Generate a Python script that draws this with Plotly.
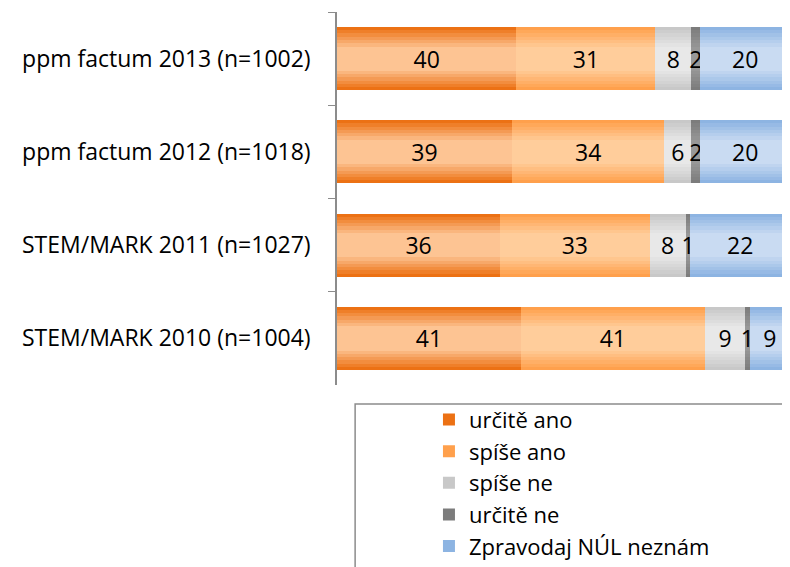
import plotly.graph_objects as go

categories = ["ppm factum 2013 (n=1002)", "ppm factum 2012 (n=1018)",
              "STEM/MARK 2011 (n=1027)", "STEM/MARK 2010 (n=1004)"]
series_names = ["určitě ano", "spíše ano", "spíše ne", "určitě ne", "Zpravodaj NÚL neznám"]
urcite_ano = [40, 39, 36, 41]
spise_ano = [31, 34, 33, 41]
spise_ne = [8, 6, 8, 9]
urcite_ne = [2, 2, 1, 1]
neznam = [20, 20, 22, 9]
values = [urcite_ano, spise_ano, spise_ne, urcite_ne, neznam]

# gradient end colours per series: (edge, centre)
grad = [
    ((0xEC, 0x71, 0x14), (0xFD, 0xC4, 0x93)),
    ((0xFF, 0xA0, 0x4C), (0xFF, 0xCD, 0x9B)),
    ((0xC8, 0xC8, 0xC8), (0xE8, 0xE8, 0xE8)),
    ((0x7C, 0x7C, 0x7C), (0x98, 0x98, 0x98)),
    ((0x8D, 0xB4, 0xE2), (0xC9, 0xDB, 0xF2)),
]
layer_widths = [0.675, 0.61, 0.54, 0.47, 0.40, 0.33, 0.26]
nl = len(layer_widths)


def shade(si, li):
    a, b = grad[si]
    t = li / (nl - 1)
    return "rgb(%d,%d,%d)" % tuple(round(a[k] + (b[k] - a[k]) * t) for k in range(3))


FONT = "Open Sans"
FS = 23
LFS = 22
fig = go.Figure()
for li, w in enumerate(layer_widths):
    ax = "y" if li == 0 else "y%d" % (li + 1)
    top = li == nl - 1
    for si, (name, vals) in enumerate(zip(series_names, values)):
        fig.add_trace(go.Bar(
            y=categories, x=vals, name=name, orientation="h", yaxis=ax,
            width=w, legendgroup=name, showlegend=(li == 0),
            marker=dict(color=shade(si, li), line=dict(width=0)),
            text=[str(v) for v in vals] if top else None,
            textposition="inside" if top else "none", textangle=0,
            insidetextanchor="middle", constraintext="none",
            textfont=dict(family=FONT, size=FS, color="black"),
            hoverinfo=None if top else "skip",
        ))

fig.update_layout(
    width=790, height=567,
    margin=dict(l=329, r=8, t=4, b=190, autoexpand=False),
    barmode="stack", barnorm="percent",
    plot_bgcolor="white", paper_bgcolor="white",
    uniformtext=dict(mode="show", minsize=FS),
    showlegend=True,
    legend=dict(x=0.203, y=-0.037, xanchor="left", yanchor="top",
                font=dict(family=FONT, size=LFS, color="black"),
                bgcolor="rgba(0,0,0,0)", borderwidth=0,
                tracegroupgap=4, itemwidth=30, traceorder="normal"),
    shapes=[dict(type="rect", xref="paper", yref="paper",
                 x0=0.04, x1=1.05, y0=-0.051, y1=-0.6,
                 line=dict(color="#8C8C8C", width=1.5), fillcolor="rgba(0,0,0,0)")],
)
fig.update_xaxes(range=[0, 100], visible=False)
for li in range(1, nl):
    fig.update_layout({"yaxis%d" % (li + 1): dict(
        overlaying="y", visible=False, autorange="reversed",
        categoryorder="array", categoryarray=categories)})
fig.layout.yaxis.update(autorange="reversed", showline=True, linecolor="#8C8C8C", linewidth=1.5,
                        ticks="outside", ticklen=7, tickcolor="#8C8C8C", tickson="boundaries",
                        showgrid=False, tickfont=dict(family=FONT, size=FS, color="black"),
                        ticklabelstandoff=20, automargin=False,
                        categoryorder="array", categoryarray=categories)
fig.write_html("out.html")
